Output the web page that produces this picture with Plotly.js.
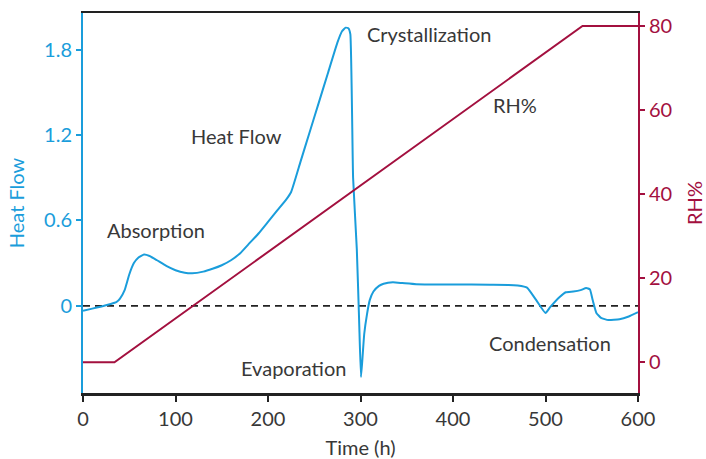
<!DOCTYPE html>
<html>
<head>
<meta charset="utf-8">
<script src="https://cdn.plot.ly/plotly-3.0.1.min.js"></script>
<style>
  html, body { margin: 0; padding: 0; background: #fff; }
  #chart { width: 706px; height: 459px; }
</style>
</head>
<body>
<div id="chart"></div>
<script>
// Heat flow signal (left axis) against time in hours
const heatTime = [0, 10, 20, 30, 36, 40, 45, 50, 55, 60, 66, 72, 80, 90, 100, 110, 118, 130, 140, 150,
  160, 170, 180, 190, 200, 210, 220, 225, 235, 245, 255, 265, 275, 280, 284, 287, 289, 292, 296,
  298.5, 300.5, 302, 304, 307, 310, 314, 320, 325, 335, 345, 360, 400, 440, 460, 470, 480, 490,
  500, 505, 515, 522, 530, 538, 544, 548, 551, 555, 560, 568, 580, 590, 600];
const heatFlow = [-0.035, -0.02, -0.005, 0.012, 0.025, 0.05, 0.11, 0.22, 0.30, 0.34, 0.36, 0.35, 0.32,
  0.28, 0.25, 0.232, 0.228, 0.24, 0.26, 0.285, 0.32, 0.37, 0.44, 0.51, 0.59, 0.67, 0.75, 0.80,
  1.01, 1.22, 1.43, 1.64, 1.85, 1.93, 1.955, 1.95, 1.91, 0.9, 0.4, -0.1, -0.5, -0.38, -0.2, -0.06,
  0.04, 0.10, 0.14, 0.155, 0.165, 0.16, 0.152, 0.15, 0.148, 0.147, 0.142, 0.128, 0.04, -0.05,
  -0.01, 0.06, 0.095, 0.10, 0.11, 0.125, 0.115, 0.04, -0.05, -0.085, -0.1, -0.095, -0.075, -0.045];

// Relative humidity programme (right axis)
const rhTime = [0, 34, 540, 600];
const rhValue = [0, 0, 80, 80];

const heatTicks = [0, 0.6, 1.2, 1.8];
const heatTickText = ['0', '0.6', '1.2', '1.8'];
const rhTicks = [0, 20, 40, 60, 80];
const timeTicks = [0, 100, 200, 300, 400, 500, 600];

// Text labels placed in data coordinates of the heat-flow axis
const labelText = ['Absorption', 'Heat Flow', 'Crystallization', 'Evaporation', 'RH%', 'Condensation'];
const labelX = [79, 166, 374, 228, 467, 505];
const labelY = [0.53, 1.19, 1.91, -0.44, 1.41, -0.26];

const BLUE = '#1a9ddb';
const RED = '#a3103f';
const INK = '#383838';
const FONT = 'Lato, "Open Sans", sans-serif';

const traces = [
  {
    x: rhTime, y: rhValue, yaxis: 'y2', type: 'scatter', mode: 'lines',
    line: { color: RED, width: 2 }, hoverinfo: 'skip'
  },
  {
    x: heatTime, y: heatFlow, type: 'scatter', mode: 'lines',
    line: { color: BLUE, width: 2, shape: 'spline', smoothing: 0.4 }, hoverinfo: 'skip'
  }
];

const annotations = labelText.map((t, i) => ({
  x: labelX[i], y: labelY[i], xref: 'x', yref: 'y', text: t, showarrow: false,
  font: { family: FONT, size: 20, color: INK }, xanchor: 'center', yanchor: 'middle'
}));

const layout = {
  width: 706, height: 459,
  margin: { l: 83, r: 68, t: 13, b: 66 },
  paper_bgcolor: '#ffffff', plot_bgcolor: '#ffffff',
  showlegend: false,
  font: { family: FONT, size: 20, color: INK },
  xaxis: {
    range: [0, 600], tickvals: timeTicks, ticks: 'outside', ticklen: 6, tickwidth: 2,
    tickcolor: '#222', showline: true, linecolor: '#222', linewidth: 2.5, mirror: true,
    showgrid: false, zeroline: false,
    tickfont: { family: FONT, size: 20, color: INK },
    title: { text: 'Time (h)', font: { family: FONT, size: 20, color: INK }, standoff: 16 }
  },
  yaxis: {
    range: [-0.613, 2.058], tickvals: heatTicks, ticktext: heatTickText, ticks: 'outside',
    ticklen: 5, tickwidth: 2, tickcolor: BLUE, showline: true, linecolor: BLUE, linewidth: 2,
    showgrid: false, zeroline: false,
    tickfont: { family: FONT, size: 20, color: BLUE },
    title: { text: 'Heat Flow', font: { family: FONT, size: 20, color: BLUE }, standoff: 14 }
  },
  yaxis2: {
    range: [-7.3, 83.1], tickvals: rhTicks, overlaying: 'y', side: 'right', ticks: 'outside',
    ticklen: 5, tickwidth: 2, tickcolor: RED, showline: true, linecolor: RED, linewidth: 2,
    showgrid: false, zeroline: false,
    tickfont: { family: FONT, size: 20, color: RED },
    title: { text: 'RH%', font: { family: FONT, size: 20, color: RED }, standoff: 20 }
  },
  shapes: [{
    type: 'line', xref: 'x', yref: 'y', x0: 0, x1: 600, y0: 0, y1: 0, layer: 'below',
    line: { color: '#222', width: 1.8, dash: '7px,5px' }
  }],
  annotations: annotations
};

Plotly.newPlot('chart', traces, layout, { staticPlot: true, displayModeBar: false });
</script>
</body>
</html>
